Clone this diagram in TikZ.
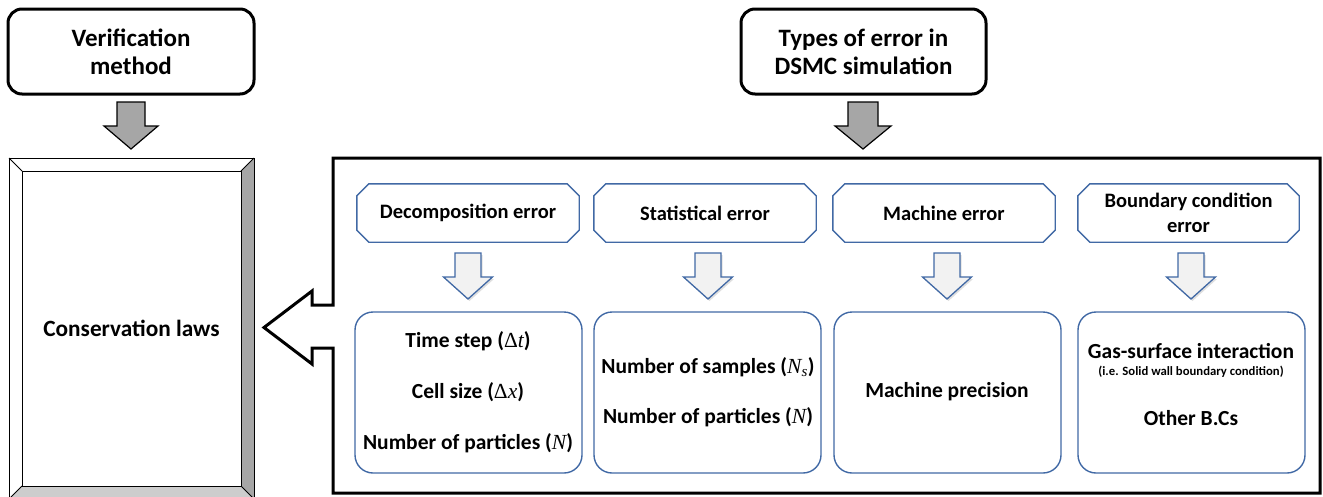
\documentclass[tikz,border=0pt]{standalone}
\usepackage{fontspec}
\setmainfont{Carlito}
\newfontfamily\tnr{Liberation Serif}
\usetikzlibrary{shadows}
\definecolor{bl}{RGB}{65,105,165}
\definecolor{dgray}{RGB}{166,166,166}
\definecolor{lgray}{RGB}{205,205,205}
\definecolor{afill}{RGB}{242,242,242}
\newcommand\mv[1]{{\tnr\mdseries\itshape #1}}
\newcommand\myDelta{{\tnr\mdseries Δ}}
\newcommand\fatdown[7]{%
  \path[#1] ({#2-#6},#3) -- ({#2+#6},#3) -- ({#2+#6},#4) -- ({#2+#7},#4) -- (#2,#5) -- ({#2-#7},#4) -- ({#2-#6},#4) -- cycle;}
\newcommand\chamfbox[1]{%
  \draw[hdrline] ([xshift=12pt]#1.north west) -- ([xshift=-12pt]#1.north east) -- ([yshift=-12pt]#1.north east) -- ([yshift=12pt]#1.south east) -- ([xshift=-12pt]#1.south east) -- ([xshift=12pt]#1.south west) -- ([yshift=12pt]#1.south west) -- ([yshift=-12pt]#1.north west) -- cycle;}
\begin{document}
\begin{tikzpicture}[x=1pt,y=-1pt,
  titlebox/.style={draw=black,line width=3pt,rounded corners=14pt,minimum height=85pt,align=center,inner sep=0pt,
     font=\fontsize{25}{28}\selectfont\bfseries},
  hdr/.style={minimum height=58pt,inner sep=0pt,align=center,font=\fontsize{20.5}{25}\selectfont\bfseries},
  hdrline/.style={draw=bl,line width=1.4pt},
  detbox/.style={draw=bl,line width=1.4pt,rounded corners=18pt,minimum height=161pt,inner sep=0pt},
  body/.style={inner sep=0pt,font=\fontsize{21.5}{25}\selectfont\bfseries},
  small/.style={inner sep=0pt,font=\fontsize{12.7}{15}\selectfont\bfseries},
  grayarrow/.style={fill=dgray,draw=black,line width=1.2pt,line join=miter},
  bluearrow/.style={fill=afill,draw=bl,line width=1.3pt,drop shadow={opacity=0.25,shadow xshift=1.5pt,shadow yshift=-2pt}},
  bevel/.style={draw=black,line width=1pt}
]
\useasboundingbox (0,0) rectangle (1323,496);

% top boxes
\node[titlebox,minimum width=246pt] (ver) at (131,51.5) {Verification\\method};
\node[titlebox,minimum width=245pt] (types) at (863.5,51.5) {Types of error in\\DSMC simulation};

% gray arrows
\fatdown{grayarrow}{131}{102}{126}{149}{14}{27}
\fatdown{grayarrow}{863}{102}{126}{149}{15}{28}

% conservation laws bevel frame
\fill[white] (9,158) rectangle (254,499);
\fill[dgray] (254,158) -- (254,499) -- (241,486) -- (241,171) -- cycle;
\fill[lgray] (9,499) -- (254,499) -- (241,486) -- (22,486) -- cycle;
\draw[bevel] (9,158) rectangle (254,499);
\draw[bevel] (22,171) rectangle (241,486);
\draw[bevel] (9,158) -- (22,171) (254,158) -- (241,171) (9,499) -- (22,486) (254,499) -- (241,486);
\node[inner sep=0pt,font=\fontsize{23.3}{27}\selectfont\bfseries] (cons) at (131.5,328) {Conservation laws};

% big frame with left arrow
\draw[line width=3pt,line join=miter] (333,305) -- (333,158) -- (1320,158) -- (1320,493) -- (333,493) -- (333,348)
   -- (312,348) -- (312,364) -- (264,327.5) -- (312,291) -- (312,305) -- cycle;

% header boxes
\node[hdr,minimum width=222pt] (h1) at (468,213) {Decomposition error};
\node[hdr,minimum width=222pt] (h2) at (705,213) {Statistical error};
\node[hdr,minimum width=222pt] (h3) at (944,213) {Machine error};
\node[hdr,minimum width=221pt] (h4) at (1188.5,213) {Boundary condition\\error};
\chamfbox{h1}\chamfbox{h2}\chamfbox{h3}\chamfbox{h4}

% blue arrows
\fatdown{bluearrow}{468}{253}{277}{299}{13}{24.5}
\fatdown{bluearrow}{708}{253}{277}{299}{13}{24.5}
\fatdown{bluearrow}{947}{253}{277}{299}{13}{24.5}
\fatdown{bluearrow}{1191}{253}{277}{299}{13}{24.5}

% detail boxes
\node[detbox,minimum width=227pt] (d1) at (468.5,392.5) {};
\node[detbox,minimum width=227pt] (d2) at (707.5,392.5) {};
\node[detbox,minimum width=227pt] (d3) at (947.5,392.5) {};
\node[detbox,minimum width=227pt] (d4) at (1191.5,392.5) {};

\node[body] (t11) at (468,341) {Time step (\myDelta\mv{t})};
\node[body] (t12) at (468,392) {Cell size (\myDelta\mv{x})};
\node[body] (t13) at (468,443) {Number of particles (\mv{N})};
\node[body] (t21) at (708,367) {Number of samples (\mv{N\textsubscript{s}})};
\node[body] (t22) at (708,417) {Number of particles (\mv{N})};
\node[body] (t31) at (947,392) {Machine precision};
\node[body] (t41) at (1191,351) {Gas-surface interaction};
\node[small] (t42) at (1191,372) {(i.e. Solid wall boundary condition)};
\node[body] (t43) at (1191,418) {Other B.Cs};
\end{tikzpicture}
\end{document}
